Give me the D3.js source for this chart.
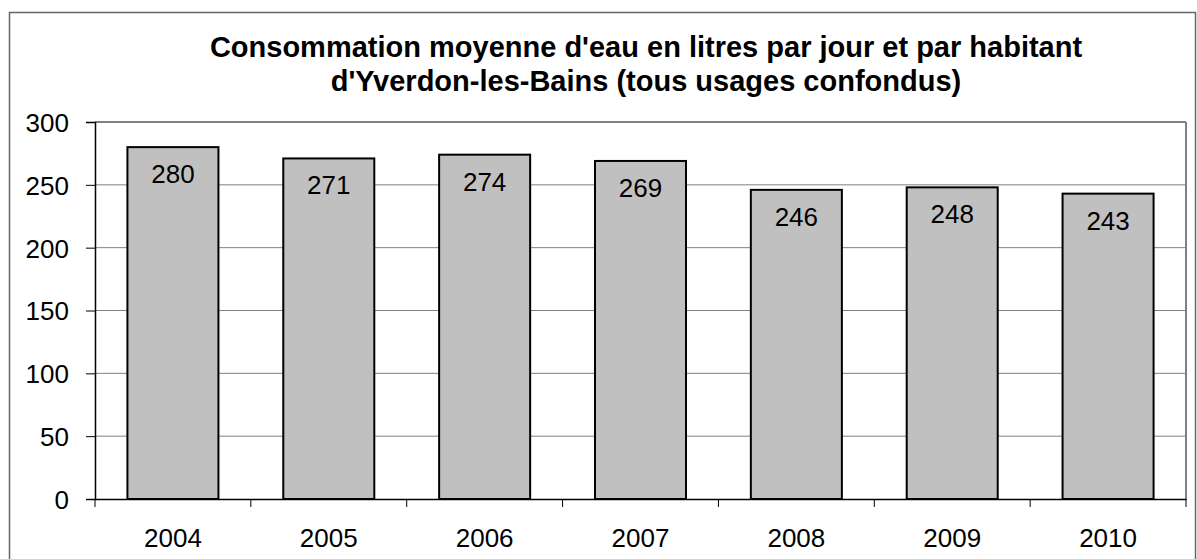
<!DOCTYPE html>
<html>
<head>
<meta charset="utf-8">
<script src="https://cdn.jsdelivr.net/npm/d3@7"></script>
<style>
body { margin:0; background:#fff; }
text { font-family: "Liberation Sans", Arial, sans-serif; fill:#000; }
</style>
</head>
<body>
<div id="chart"></div>
<script>
var years = ["2004","2005","2006","2007","2008","2009","2010"];
var litres = [280, 271, 274, 269, 246, 248, 243];
var yTicks = [0, 50, 100, 150, 200, 250, 300];
var titleLines = ["Consommation moyenne d'eau en litres par jour et par habitant",
                  "d'Yverdon-les-Bains (tous usages confondus)"];

var W = 1197, H = 559;
var plot = {left:95, right:1186, top:122, bottom:499};

var svg = d3.select("#chart")
    .append("svg")
    .attr("width", W)
    .attr("height", H);

// outer frame
svg.append("rect")
    .attr("x", 9.5).attr("y", 12.5)
    .attr("width", 1186).attr("height", 560)
    .attr("fill", "none")
    .attr("stroke", "#666")
    .attr("stroke-width", 1.5);

// title
svg.append("g").selectAll("text")
    .data(titleLines)
    .enter().append("text")
    .attr("x", 646)
    .attr("y", function(d,i){ return 57 + i*34; })
    .attr("text-anchor", "middle")
    .style("font-size", "29px")
    .style("font-weight", "bold")
    .text(function(d){ return d; });

var x = d3.scaleBand()
    .domain(years)
    .range([plot.left, plot.right])
    .paddingInner(0.416)
    .paddingOuter(0.208);

var y = d3.scaleLinear()
    .domain([0, 300])
    .range([plot.bottom, plot.top]);

// gridlines
svg.append("g").selectAll("line")
    .data(yTicks.slice(1))
    .enter().append("line")
    .attr("x1", plot.left).attr("x2", plot.right)
    .attr("y1", function(d){ return y(d); })
    .attr("y2", function(d){ return y(d); })
    .attr("stroke", "#808080")
    .attr("stroke-width", 1);

// plot border (right side gray)
svg.append("line")
    .attr("x1", plot.right).attr("x2", plot.right)
    .attr("y1", plot.top).attr("y2", plot.bottom)
    .attr("stroke", "#808080").attr("stroke-width", 2);
svg.append("line")
    .attr("x1", plot.left).attr("x2", plot.right)
    .attr("y1", plot.top).attr("y2", plot.top)
    .attr("stroke", "#808080").attr("stroke-width", 2);

// bars
svg.append("g").selectAll("rect")
    .data(litres)
    .enter().append("rect")
    .attr("x", function(d,i){ return x(years[i]); })
    .attr("y", function(d){ return y(d); })
    .attr("width", x.bandwidth())
    .attr("height", function(d){ return plot.bottom - y(d); })
    .attr("fill", "#c0c0c0")
    .attr("stroke", "#000")
    .attr("stroke-width", 2);

// value labels
svg.append("g").selectAll("text")
    .data(litres)
    .enter().append("text")
    .attr("x", function(d,i){ return x(years[i]) + x.bandwidth()/2; })
    .attr("y", function(d){ return y(d) + 36; })
    .attr("text-anchor", "middle")
    .style("font-size", "26px")
    .text(function(d){ return d; });

// y axis
var yAxis = svg.append("g")
    .attr("transform", "translate(" + plot.left + ",0)")
    .call(d3.axisLeft(y).tickValues(yTicks).tickSize(9).tickPadding(17).tickFormat(d3.format("d")));
yAxis.selectAll("line").attr("stroke", "#000");
yAxis.select(".domain").attr("stroke", "#000").attr("stroke-width", 1.5);
yAxis.selectAll("text").style("font-size", "26px").attr("dy", "0.36em");

// x axis
var xAxis = svg.append("g")
    .attr("transform", "translate(0," + plot.bottom + ")")
    .call(d3.axisBottom(x).tickSize(0).tickPadding(30).tickSizeOuter(0));
xAxis.select(".domain").attr("stroke", "#000").attr("stroke-width", 1.5);
xAxis.selectAll("text").style("font-size", "26px");

// category boundary ticks
var step = x.step();
svg.append("g").selectAll("line")
    .data(d3.range(years.length + 1))
    .enter().append("line")
    .attr("x1", function(i){ return plot.left + i*step; })
    .attr("x2", function(i){ return plot.left + i*step; })
    .attr("y1", plot.bottom).attr("y2", plot.bottom + 8)
    .attr("stroke", "#000");
</script>
</body>
</html>
